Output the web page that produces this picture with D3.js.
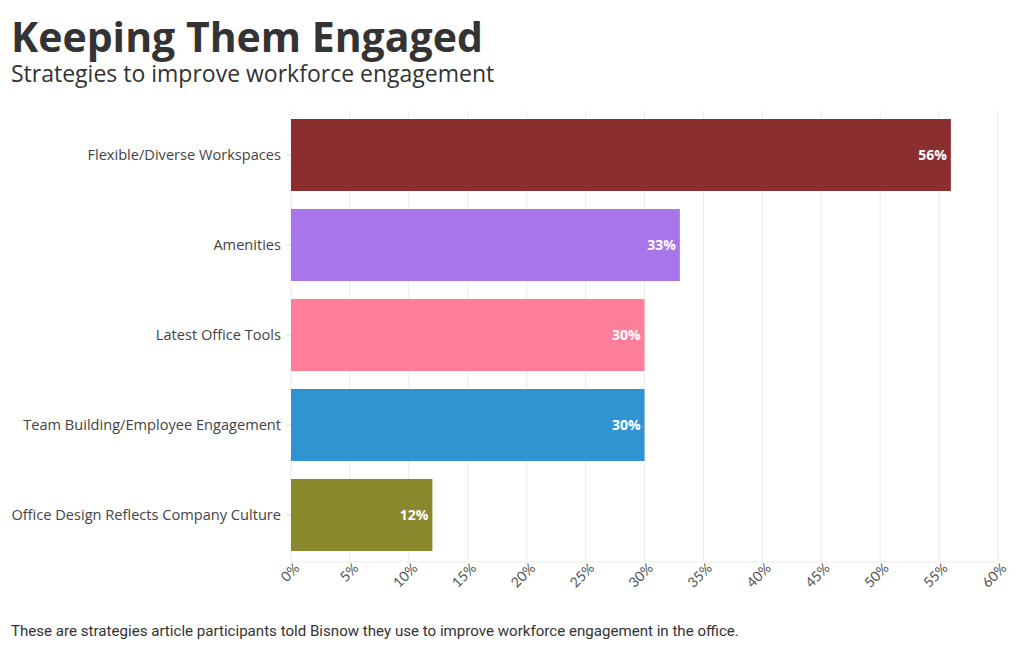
<!DOCTYPE html>
<html><head><meta charset="utf-8">
<script src="https://cdn.jsdelivr.net/npm/d3@7"></script>
<style>body{margin:0;background:#fff;} svg{display:block;}</style>
</head><body>
<svg id="c" width="1020" height="650"></svg>
<script>
const categories = ["Flexible/Diverse Workspaces","Amenities","Latest Office Tools","Team Building/Employee Engagement","Office Design Reflects Company Culture"];
const values = [56, 33, 30, 30, 12];
const colors = ["#8a2e2f","#a875ea","#ff7f9b","#3094d3","#8a882d"];
const xTicks = [0,5,10,15,20,25,30,35,40,45,50,55,60];
const title = "Keeping Them Engaged";
const subtitle = "Strategies to improve workforce engagement";
const footer = "These are strategies article participants told Bisnow they use to improve workforce engagement in the office.";

const svg = d3.select("#c");
const m = {left:291, right:998, top:110, bottom:560};
const x = d3.scaleLinear().domain([0,60]).range([m.left, m.right]);
const y = d3.scaleBand().domain(categories).range([m.top, m.bottom]).paddingInner(0.2).paddingOuter(0.1);

svg.append("text").attr("x",11).attr("y",52).text(title)
  .style("font-family","'Open Sans'").style("font-weight",700).style("font-size","41px").attr("fill","#333");
svg.append("text").attr("x",11).attr("y",82).text(subtitle)
  .style("font-family","'Open Sans'").style("font-size","23px").attr("fill","#333");

// grid
svg.append("g").selectAll("line").data(xTicks).join("line")
  .attr("x1",d=>x(d)).attr("x2",d=>x(d)).attr("y1",m.top).attr("y2",m.bottom+2)
  .attr("stroke","#ececec").attr("stroke-width",1);
svg.append("line").attr("x1",m.left).attr("x2",m.right).attr("y1",m.bottom+2).attr("y2",m.bottom+2).attr("stroke","#ececec");

// bars
svg.append("g").selectAll("rect").data(values).join("rect")
  .attr("x",x(0)).attr("y",(d,i)=>y(categories[i])).attr("width",d=>x(d)-x(0)).attr("height",y.bandwidth())
  .attr("fill",(d,i)=>colors[i]);
svg.append("g").selectAll("text").data(values).join("text")
  .attr("x",d=>x(d)-4).attr("y",(d,i)=>y(categories[i])+y.bandwidth()/2+5)
  .attr("text-anchor","end").text(d=>d+"%")
  .style("font-family","'Open Sans'").style("font-weight",700).style("font-size","14px").attr("fill","#fff");

// y axis
const ya = svg.append("g").attr("transform",`translate(${m.left},0)`)
  .call(d3.axisLeft(y).tickSize(5).tickPadding(5));
ya.select(".domain").remove();
ya.selectAll("line").attr("stroke","#ddd");
ya.selectAll("text").style("font-family","'Open Sans'").style("font-size","14.6px").attr("fill","#444");

// x axis
const xa = svg.append("g").attr("transform",`translate(0,${m.bottom+2})`)
  .call(d3.axisBottom(x).tickValues(xTicks).tickFormat(d=>d+"%").tickSize(0).tickPadding(5));
xa.select(".domain").remove();
xa.selectAll("text").attr("transform","translate(2,0) rotate(-45)").attr("text-anchor","end").attr("dy","0.35em").attr("dx","0")
  .style("font-family","Lato").style("font-size","14px").attr("fill","#555");

svg.append("text").attr("x",11).attr("y",636).text(footer)
  .style("font-family","Roboto").style("font-size","15.1px").attr("fill","#333");
</script>
</body></html>
